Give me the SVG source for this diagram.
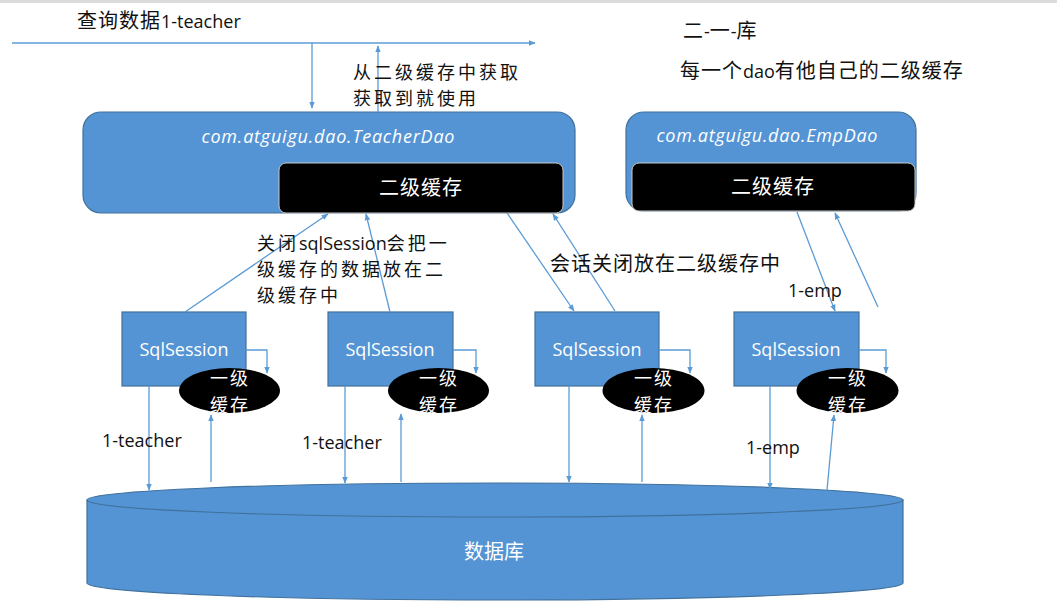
<svg xmlns="http://www.w3.org/2000/svg" width="1057" height="615" viewBox="0 0 1057 615">
  <defs>
    <marker id="arr" viewBox="0 0 10 10" refX="9" refY="5" markerWidth="7" markerHeight="7" markerUnits="userSpaceOnUse" orient="auto">
      <path d="M0,1 L10,5 L0,9 z" fill="#5b9bd5"/>
    </marker>
    <style>
      .blue { fill: #5494d4; stroke: #41719c; stroke-width: 1.2; }
      .cache2 { fill: #000; stroke: #c8c8c8; stroke-width: 1; }
      .cache1 { fill: #000; }
      .conn { fill: none; stroke: #5b9bd5; stroke-width: 1.3; marker-end: url(#arr); }
      .cn { font-family: "Open Sans", "Noto Sans CJK SC", sans-serif; font-size: 20px; fill: #111; letter-spacing: 1px; }
      .cn2 { font-family: "Open Sans", "Noto Sans CJK SC", sans-serif; font-size: 18px; fill: #111; letter-spacing: 3px; }
      .lat { font-family: "Open Sans", sans-serif; font-size: 18px; letter-spacing: 0; }
      .wcn { font-family: "Noto Sans CJK SC", sans-serif; font-size: 20px; fill: #fff; text-anchor: middle; }
      .c1 { font-family: "Noto Sans CJK SC", sans-serif; font-size: 18px; fill: #fff; text-anchor: middle; letter-spacing: 2px; }
      .dao { font-family: "Open Sans", sans-serif; font-style: italic; font-size: 18px; fill: #fff; text-anchor: middle; }
      .sess { font-family: "Open Sans", sans-serif; font-size: 18px; fill: #fff; text-anchor: middle; }
      .lbl { font-family: "Open Sans", sans-serif; font-size: 18px; fill: #111; }
    </style>
  </defs>

  <rect x="0" y="0" width="1057" height="615" fill="#fff"/>
  <rect x="0" y="0" width="1057" height="3" fill="#dcdcdc"/>

  <!-- database cylinder -->
  <g id="database">
    <path class="blue" d="M87,500 L87,583 A408,17 0 0 0 903,583 L903,500 Z"/>
    <ellipse class="blue" cx="495" cy="500" rx="408" ry="17"/>
    <text class="wcn" x="494" y="559">数据库</text>
  </g>

  <!-- second-level cache owners -->
  <g id="teacherDao">
    <rect class="blue" x="83" y="112" width="492" height="101" rx="18"/>
    <text class="dao" x="328" y="143" textLength="253" lengthAdjust="spacing">com.atguigu.dao.TeacherDao</text>
    <rect class="cache2" x="279" y="163" width="284" height="50" rx="7"/>
    <text class="wcn" x="421" y="195" letter-spacing="1">二级缓存</text>
  </g>

  <g id="empDao">
    <rect class="blue" x="626" y="112" width="290" height="99" rx="18"/>
    <text class="dao" x="767" y="142" textLength="221" lengthAdjust="spacing">com.atguigu.dao.EmpDao</text>
    <rect class="cache2" x="632" y="163" width="283" height="48" rx="7"/>
    <text class="wcn" x="773" y="194" letter-spacing="1">二级缓存</text>
  </g>

  <!-- sessions with their first-level caches -->
  <g id="session1">
    <rect class="blue" x="122" y="312" width="124" height="74"/>
    <text class="sess" x="184" y="356">SqlSession</text>
    <ellipse class="cache1" cx="229.5" cy="390.5" rx="50.5" ry="22.5"/>
    <text class="c1"><tspan x="230" y="385">一级</tspan><tspan x="230" y="412">缓存</tspan></text>
  </g>
  <g id="session2">
    <rect class="blue" x="328" y="312" width="125" height="74"/>
    <text class="sess" x="390" y="356">SqlSession</text>
    <ellipse class="cache1" cx="438.5" cy="390.5" rx="50.5" ry="22.5"/>
    <text class="c1"><tspan x="439" y="385">一级</tspan><tspan x="439" y="412">缓存</tspan></text>
  </g>
  <g id="session3">
    <rect class="blue" x="535" y="312" width="124" height="74"/>
    <text class="sess" x="597" y="356">SqlSession</text>
    <ellipse class="cache1" cx="653.5" cy="390.5" rx="51" ry="22.5"/>
    <text class="c1"><tspan x="654" y="385">一级</tspan><tspan x="654" y="412">缓存</tspan></text>
  </g>
  <g id="session4">
    <rect class="blue" x="734" y="312" width="125" height="74"/>
    <text class="sess" x="796" y="356">SqlSession</text>
    <ellipse class="cache1" cx="847.5" cy="390.5" rx="51" ry="22.5"/>
    <text class="c1"><tspan x="848" y="385">一级</tspan><tspan x="848" y="412">缓存</tspan></text>
  </g>

  <!-- connectors -->
  <g id="connectors">
    <!-- query flow -->
    <line class="conn" x1="12" y1="43" x2="535" y2="43"/>
    <line class="conn" x1="312" y1="43" x2="312" y2="108"/>
    <line class="conn" x1="378" y1="112" x2="378" y2="46"/>

    <!-- sessions to second-level caches -->
    <line class="conn" x1="185" y1="312" x2="328" y2="214"/>
    <line class="conn" x1="390" y1="312" x2="366" y2="214"/>
    <line class="conn" x1="507" y1="213" x2="574" y2="311"/>
    <line class="conn" x1="615" y1="311" x2="553" y2="214"/>
    <line class="conn" x1="797" y1="212" x2="835" y2="311"/>
    <line class="conn" x1="878" y1="307" x2="835" y2="213"/>

    <!-- session to own first-level cache -->
    <path class="conn" d="M246,350 H267 V373"/>
    <path class="conn" d="M453,350 H476 V373"/>
    <path class="conn" d="M659,350 H690 V373"/>
    <path class="conn" d="M859,350 H886 V373"/>

    <!-- sessions to database and back -->
    <line class="conn" x1="149" y1="386" x2="149" y2="490"/>
    <line class="conn" x1="211" y1="482" x2="211" y2="415"/>
    <line class="conn" x1="345" y1="386" x2="345" y2="483"/>
    <line class="conn" x1="401" y1="482" x2="401" y2="414"/>
    <line class="conn" x1="569" y1="386" x2="569" y2="482"/>
    <line class="conn" x1="642" y1="482" x2="642" y2="415"/>
    <line class="conn" x1="770" y1="386" x2="770" y2="489"/>
    <line class="conn" x1="827" y1="490" x2="834" y2="415"/>
  </g>

  <!-- annotations -->
  <g id="notes">
    <text class="cn" x="77" y="28">查询数据<tspan class="lat">1-teacher</tspan></text>
    <text class="cn2" x="353" y="79">从二级缓存中获取</text>
    <text class="cn2" x="353" y="105">获取到就使用</text>
    <text class="cn" x="683" y="38">二<tspan class="lat">-</tspan>一<tspan class="lat">-</tspan>库</text>
    <text class="cn" x="680" y="78">每一个<tspan class="lat">dao</tspan>有他自己的二级缓存</text>
    <text class="cn2" x="257" y="250">关闭<tspan class="lat">sqlSession</tspan>会把一</text>
    <text class="cn2" x="257" y="276">级缓存的数据放在二</text>
    <text class="cn2" x="257" y="302">级缓存中</text>
    <text class="cn" x="550" y="271">会话关闭放在二级缓存中</text>
    <text class="lbl" x="788" y="297">1-emp</text>
    <text class="lbl" x="102" y="447">1-teacher</text>
    <text class="lbl" x="302" y="449">1-teacher</text>
    <text class="lbl" x="746" y="454">1-emp</text>
  </g>
</svg>
